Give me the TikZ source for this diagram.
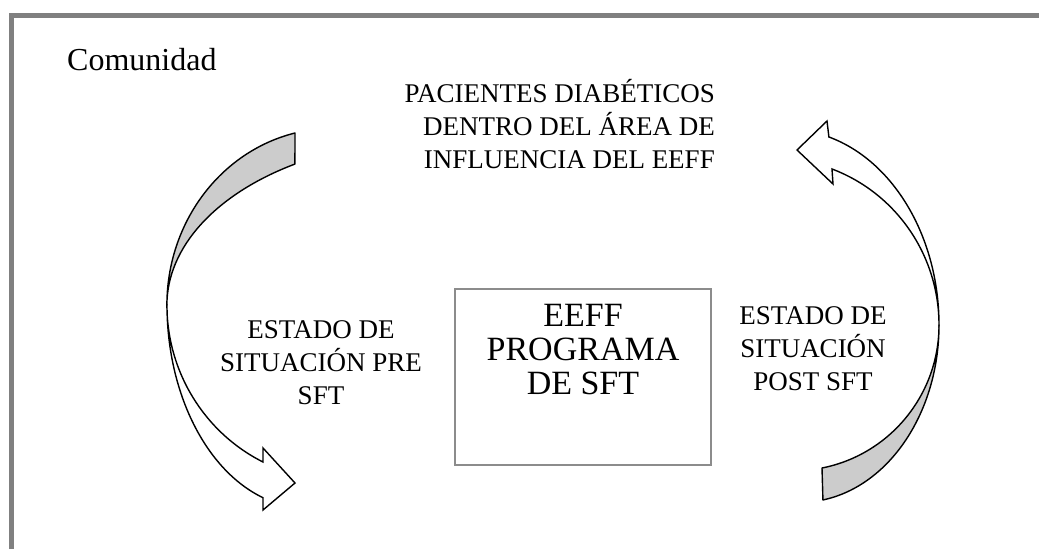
\documentclass[tikz,border=0pt]{standalone}
\usepackage{fontspec}
\setmainfont{Liberation Serif}
\usetikzlibrary{positioning}

\begin{document}
\begin{tikzpicture}[x=1pt,y=-1pt,
    phasetext/.style={font=\fontsize{27pt}{33pt}\selectfont,inner sep=0pt,align=center},
    progbox/.style={draw=boxcolor,line width=1.5pt,minimum width=256pt,minimum height=176pt,inner sep=0pt},
    progtext/.style={font=\fontsize{34pt}{34pt}\selectfont,inner sep=0pt,align=center},
    backpart/.style={fill=backcolor,draw=black,line width=1.4pt,line join=round},
    frontpart/.style={fill=white,draw=black,line width=1.4pt,line join=miter}]

    \colorlet{framecolor}{black!50}
    \colorlet{boxcolor}{black!45}
    \colorlet{backcolor}{black!20}

    \useasboundingbox (0,0) rectangle (1039,549);
    \draw[framecolor,line width=4.5pt] (11.7,549) -- (11.7,15.5) -- (1039,15.5);

    \node[font=\fontsize{32pt}{36pt}\selectfont,inner sep=0pt,anchor=base west] (comunidad) at (67,70) {Comunidad};

    \node[phasetext,align=right,anchor=north east] (pacientes) at (715,79) {PACIENTES DIABÉTICOS\\DENTRO DEL ÁREA DE\\INFLUENCIA DEL EEFF};

    \draw[backpart] (295,133) arc[start angle=256.8,end angle=180,x radius=166,y radius=176.7]
        arc[start angle=180,end angle=238.63,x radius=267,y radius=165.1] -- cycle;
    \draw[frontpart] (167,305) arc[start angle=180,end angle=108.3,x radius=140,y radius=203]
        -- (263,510) -- (295,483) -- (263,448) -- (263,462)
        arc[start angle=116.4,end angle=180,x radius=173,y radius=175.3] -- cycle;

    \draw[frontpart] (939,325) arc[start angle=0,end angle=-74,x radius=152,y radius=195.6]
        -- (827,121) -- (797,150) -- (833,184) -- (832,169)
        arc[start angle=-69.54,end angle=0,x radius=164.5,y radius=166.5] -- cycle;
    \draw[backpart] (939,325) arc[start angle=0,end angle=80.5,x radius=139,y radius=177.4]
        -- (822,468) arc[start angle=78.87,end angle=0,x radius=145,y radius=145.7] -- cycle;

    \node[progbox] (prog) at (583,377) {};
    \node[progtext,below=16pt of prog.north] (progtitle) {EEFF\\PROGRAMA\\DE SFT};

    \node[phasetext,anchor=north] (pre) at (321,320) {ESTADO DE\\SITUACIÓN PRE\\SFT};
    \node[phasetext,anchor=north] (post) at (813,306.5) {ESTADO DE\\SITUACIÓN\\POST SFT};

\end{tikzpicture}
\end{document}
